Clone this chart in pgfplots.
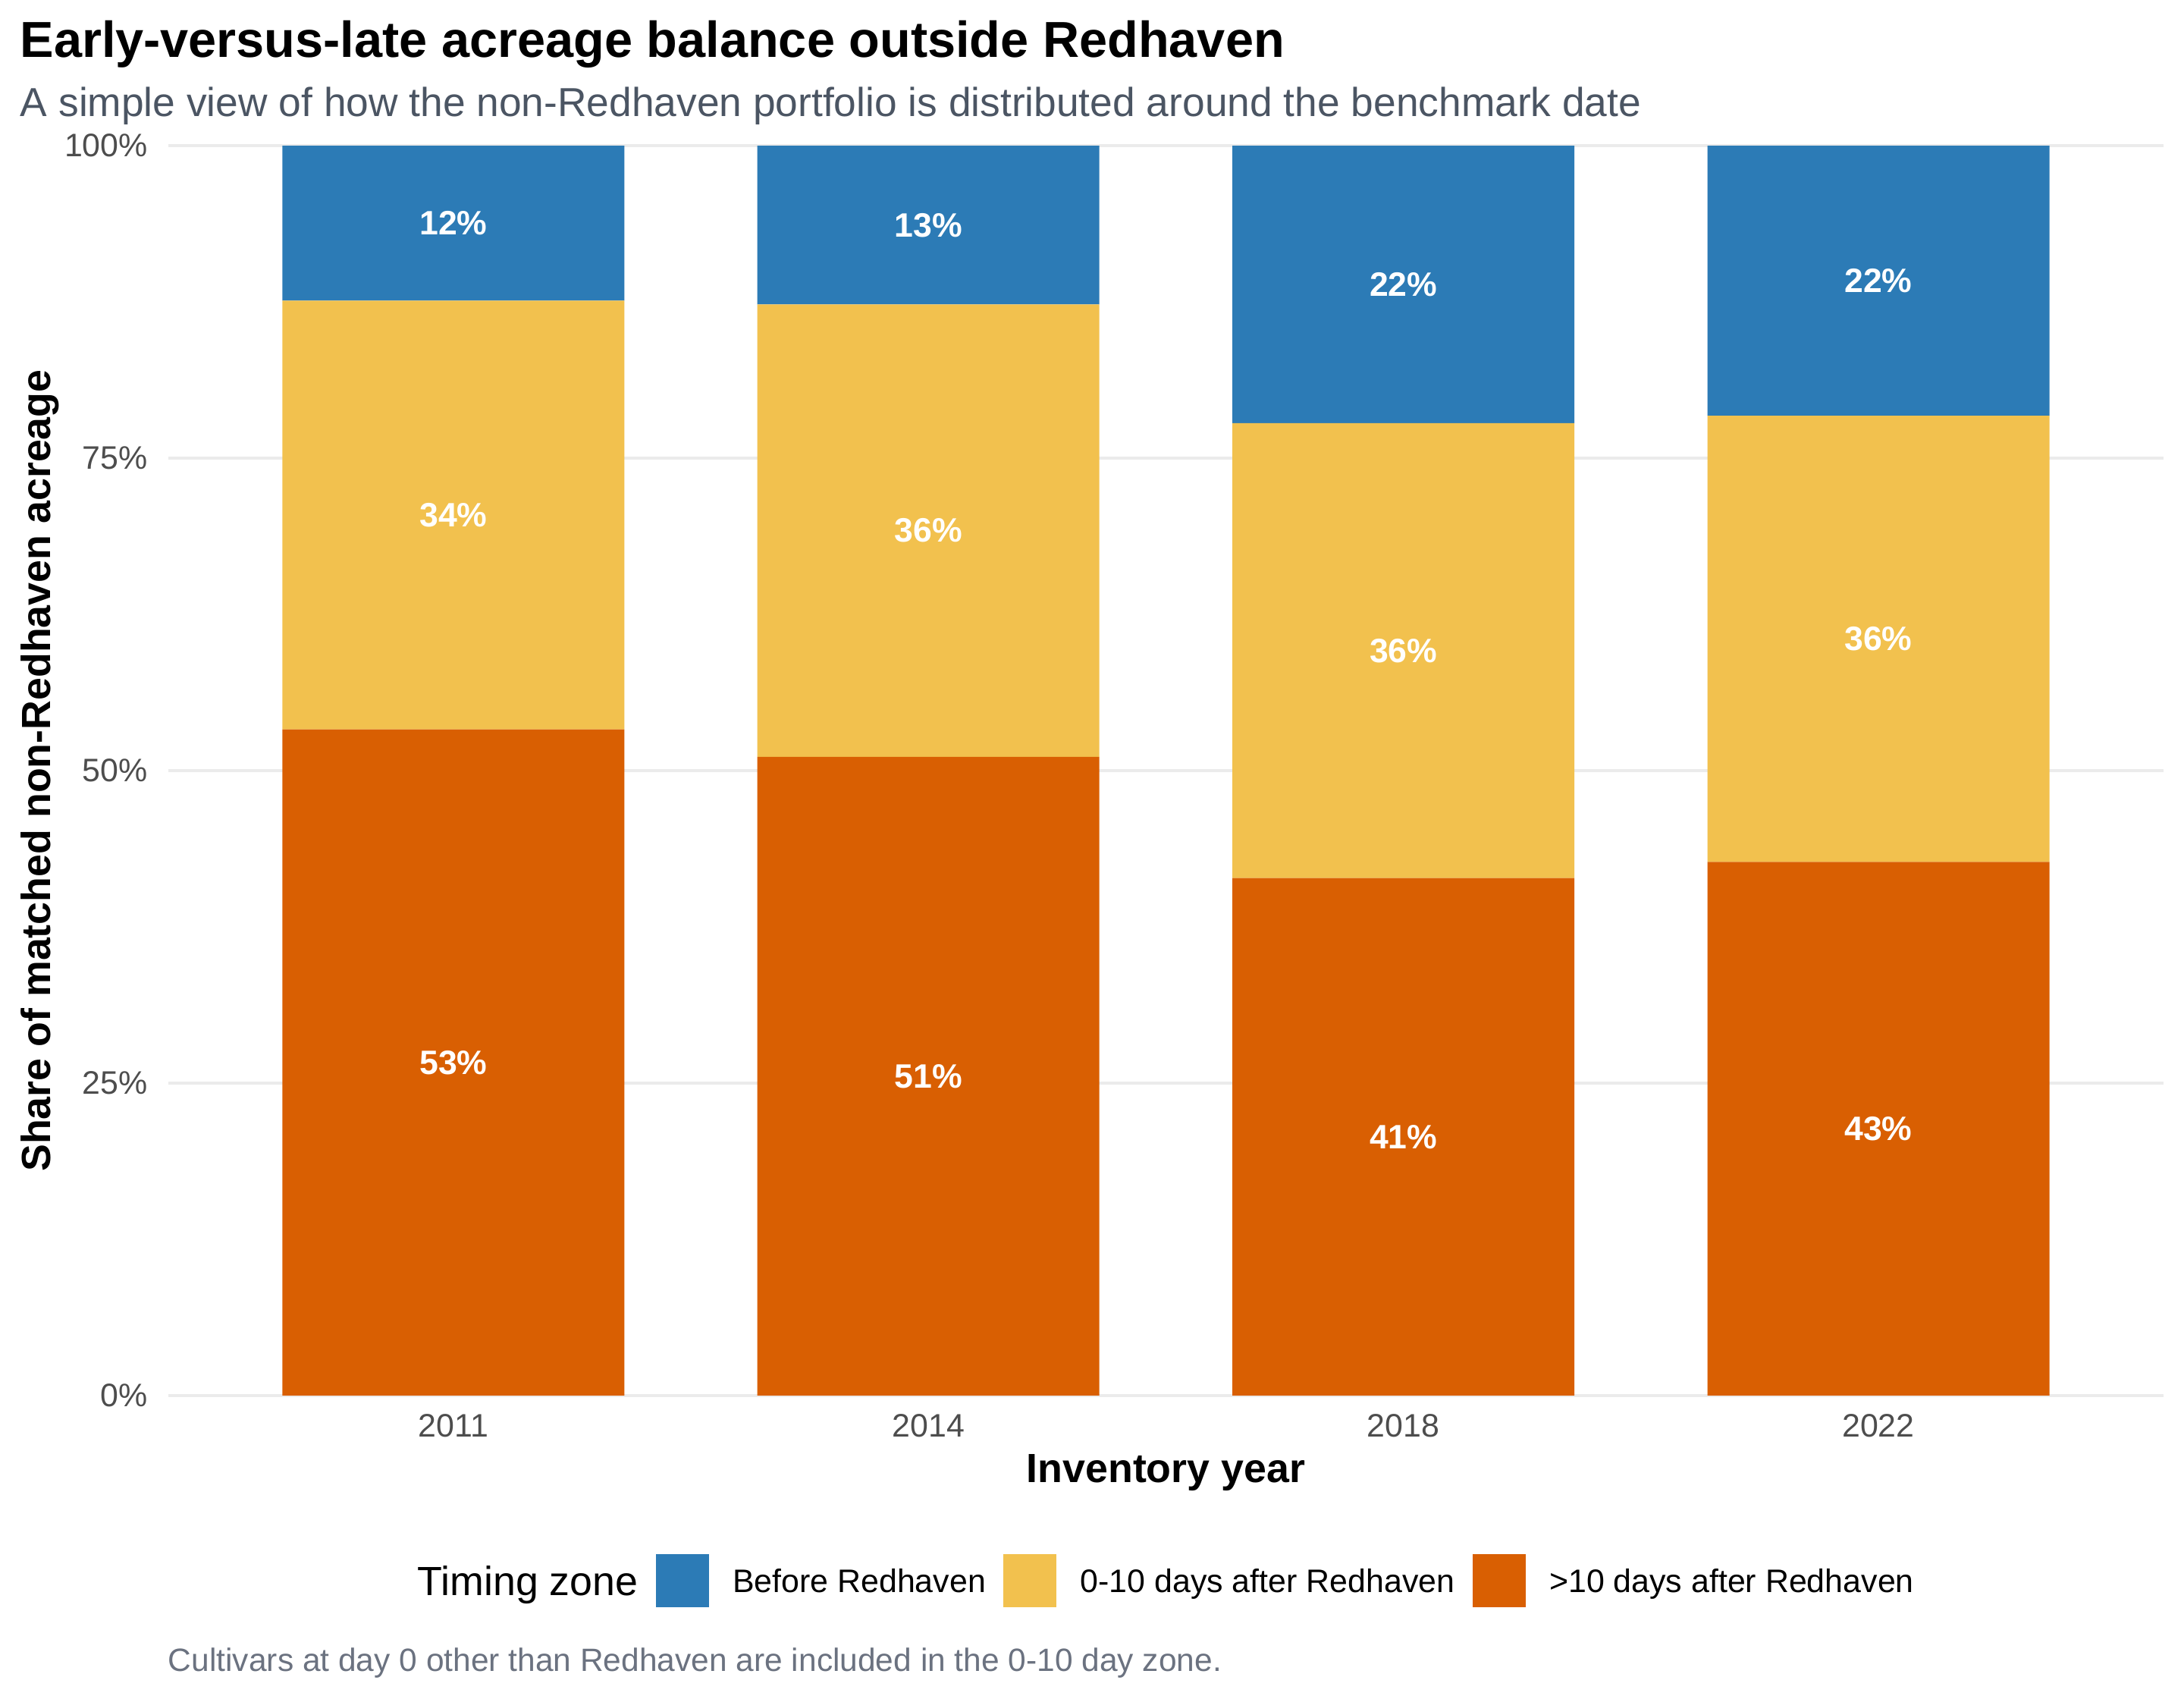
\documentclass[border=0pt]{standalone}
\usepackage{pgfplots}
\usepackage{pgfplotstable}
\pgfplotsset{compat=1.18}
\usepackage{fontspec}
\setmainfont{Liberation Sans}
\definecolor{cblue}{HTML}{2C7BB6}
\definecolor{cyel}{HTML}{F2C14E}
\definecolor{corg}{HTML}{D95F02}
\definecolor{gridc}{HTML}{EBEBEB}
\definecolor{tickc}{HTML}{4D4D4D}
\definecolor{subc}{HTML}{4B5563}
\definecolor{capc}{HTML}{6B7280}

\pgfplotstableread{
x late mid early
0 53.3 34.3 12.4
1 51.1 36.2 12.7
2 41.4 36.4 22.2
3 42.7 35.7 21.6
}\bars

\pgfplotstableread{
x y lab
0 26.65 53
0 70.45 34
0 93.80 12
1 25.55 51
1 69.20 36
1 93.65 13
2 20.70 41
2 59.60 36
2 88.90 22
3 21.35 43
3 60.55 36
3 89.20 22
}\labs

\begin{document}
\begin{tikzpicture}
\useasboundingbox (-53.28pt,-96pt) rectangle (637.92pt,441.6pt);
\begin{axis}[
  at={(0pt,0pt)}, anchor=south west,
  scale only axis, width=631.4pt, height=395.5pt,
  xmin=-0.6, xmax=3.6, ymin=0, ymax=100,
  ybar stacked, bar width=0.72,
  axis line style={draw=none}, tick style={draw=none},
  major tick length=0pt,
  xtick={0,1,2,3}, xticklabels={2011,2014,2018,2022},
  ytick={0,25,50,75,100}, yticklabels={0\%,25\%,50\%,75\%,100\%},
  ymajorgrids, grid style={gridc, line width=0.75pt},
  tick label style={font=\fontsize{10.3}{12}\selectfont, text=tickc},
  xticklabel style={anchor=base, yshift=-13.2pt},
  yticklabel style={xshift=-3pt},
  xlabel={Inventory year},
  xlabel style={font=\bfseries\fontsize{12.9}{15}\selectfont, at={(axis description cs:0.5,-0.0693)}, anchor=base},
  ylabel={Share of matched non-Redhaven acreage},
  ylabel style={font=\bfseries\fontsize{12.9}{15}\selectfont, at={(axis description cs:-0.0643,0.5)}, anchor=center},
  legend image code/.code={\fill[#1] (0pt,-8.4pt) rectangle (16.8pt,8.4pt);},
  legend style={draw=none, fill=none, at={(axis description cs:0.494,-0.1482)}, anchor=center,
    font=\fontsize{10.3}{12}\selectfont, legend columns=-1,
    nodes={inner sep=0pt, text depth=0pt},
    /tikz/every odd column/.append style={column sep=7.5pt},
    /tikz/every even column/.append style={column sep=5.6pt}},
  legend cell align=left,
]
\addplot[fill=corg, draw=none, forget plot] table[x=x, y=late] {\bars};
\addplot[fill=cyel, draw=none, forget plot] table[x=x, y=mid] {\bars};
\addplot[fill=cblue, draw=none, forget plot] table[x=x, y=early] {\bars};
\addlegendimage{empty legend}
\addlegendentry{\fontsize{12.9}{15}\selectfont Timing zone\hspace{0.9pt}}
\addlegendimage{fill=cblue, draw=none}
\addlegendentry{Before Redhaven}
\addlegendimage{fill=cyel, draw=none}
\addlegendentry{0-10 days after Redhaven}
\addlegendimage{fill=corg, draw=none}
\addlegendentry{>10 days after Redhaven}
\end{axis}
\begin{axis}[
  at={(0pt,0pt)}, anchor=south west,
  scale only axis, width=631.4pt, height=395.5pt,
  xmin=-0.6, xmax=3.6, ymin=0, ymax=100,
  hide axis, clip=false,
]
\addplot[draw=none, mark=none, point meta=explicit symbolic,
  nodes near coords={\pgfplotspointmeta\%},
  nodes near coords align=center,
  every node near coord/.append style={text=white, font=\bfseries\fontsize{10.7}{13}\selectfont, anchor=center}]
  table[x=x, y=y, meta=lab] {\labs};
\end{axis}
\node[anchor=base west, inner sep=0pt, font=\bfseries\fontsize{16.0}{19}\selectfont] at (-47.1pt,423.4pt) {Early-versus-late acreage balance outside Redhaven};
\node[anchor=base west, inner sep=0pt, text=subc, font=\fontsize{12.8}{15}\selectfont] at (-47.0pt,404.8pt) {A simple view of how the non-Redhaven portfolio is distributed around the benchmark date};
\node[anchor=base west, inner sep=0pt, text=capc, font=\fontsize{10.2}{12}\selectfont] at (-0.2pt,-87.2pt) {Cultivars at day 0 other than Redhaven are included in the 0-10 day zone.};
\end{tikzpicture}
\end{document}
